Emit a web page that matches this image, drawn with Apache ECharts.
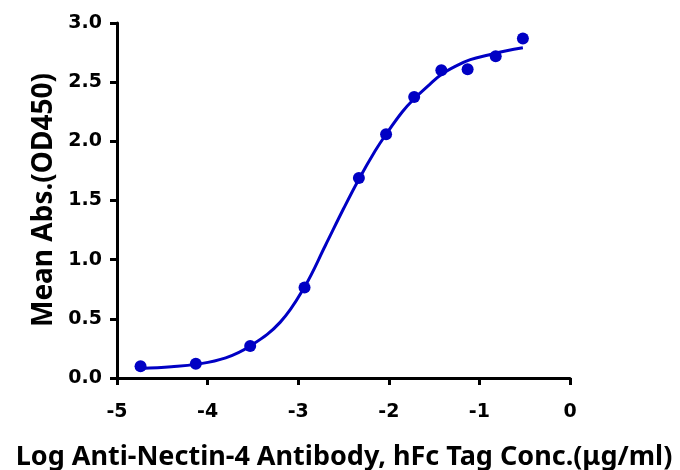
<!DOCTYPE html>
<html>
<head>
<meta charset="utf-8">
<script src="https://cdn.jsdelivr.net/npm/echarts@6/dist/echarts.min.js"></script>
<style>html,body{margin:0;padding:0;background:#fff}#c{width:680px;height:470px}</style>
</head>
<body>
<div id="c"></div>
<script>
// Measured points (log conc, OD450)
var pointX = [-4.74, -4.13, -3.53, -2.93, -2.33, -2.03, -1.72, -1.42, -1.13, -0.82, -0.52];
var pointY = [0.10, 0.12, 0.27, 0.765, 1.69, 2.06, 2.375, 2.60, 2.61, 2.72, 2.87];
// Fitted curve
var curveX = [-4.74, -4.4, -4.13, -3.8, -3.53, -3.2, -2.93, -2.7, -2.5, -2.33, -2.15, -2.03, -1.85, -1.72, -1.55, -1.42, -1.25, -1.1, -0.9, -0.7, -0.52];
var curveY = [0.08, 0.095, 0.115, 0.17, 0.27, 0.47, 0.77, 1.12, 1.43, 1.68, 1.92, 2.06, 2.25, 2.36, 2.48, 2.565, 2.64, 2.69, 2.73, 2.765, 2.79];
var xTicks = [-5, -4, -3, -2, -1, 0];
var yTicks = [0, 0.5, 1.0, 1.5, 2.0, 2.5, 3.0];
var xTitle = 'Log Anti-Nectin-4 Antibody, hFc Tag Conc.(μg/ml)';
var yTitle = 'Mean Abs.(OD450)';

var blue = '#0000C4';
var chart = echarts.init(document.getElementById('c'), null, {renderer: 'canvas'});
var tickFont = {fontFamily: 'DejaVu Sans', fontWeight: 'bold', fontSize: 19, color: '#000'};
chart.setOption({
  animation: false,
  grid: {left: 117, right: 110, top: 23, bottom: 92},
  xAxis: {
    type: 'value', min: xTicks[0], max: xTicks[xTicks.length - 1], interval: 1,
    axisLine: {onZero: false, lineStyle: {color: '#000', width: 3}},
    axisTick: {length: 7, lineStyle: {color: '#000', width: 3}},
    axisLabel: Object.assign({margin: 25, formatter: function (v) { return String(v); }}, tickFont),
    splitLine: {show: false}
  },
  yAxis: {
    type: 'value', min: yTicks[0], max: yTicks[yTicks.length - 1], interval: 0.5,
    axisLine: {show: true, onZero: false, lineStyle: {color: '#000', width: 3}},
    axisTick: {show: true, length: 7, lineStyle: {color: '#000', width: 3}},
    axisLabel: Object.assign({margin: 15, formatter: function (v) { return v.toFixed(1); }}, tickFont),
    splitLine: {show: false}
  },
  graphic: [
    {type: 'text', x: 344, y: 457, style: {text: xTitle, fontFamily: 'Noto Sans', fontWeight: 'bold', fontSize: 27, fill: '#000', align: 'center', verticalAlign: 'middle'}},
    {type: 'text', x: 44, y: 200, rotation: Math.PI / 2, style: {text: yTitle, fontFamily: 'Noto Sans', fontWeight: 'bold', fontSize: 28, fill: '#000', align: 'center', verticalAlign: 'middle'}}
  ],
  series: [
    {type: 'line', data: curveX.map(function (x, i) { return [x, curveY[i]]; }), smooth: 0.4, showSymbol: false, lineStyle: {color: blue, width: 3}, z: 2},
    {type: 'scatter', data: pointX.map(function (x, i) { return [x, pointY[i]]; }), symbolSize: 12, itemStyle: {color: blue, opacity: 1}, z: 3}
  ]
});
</script>
</body>
</html>
